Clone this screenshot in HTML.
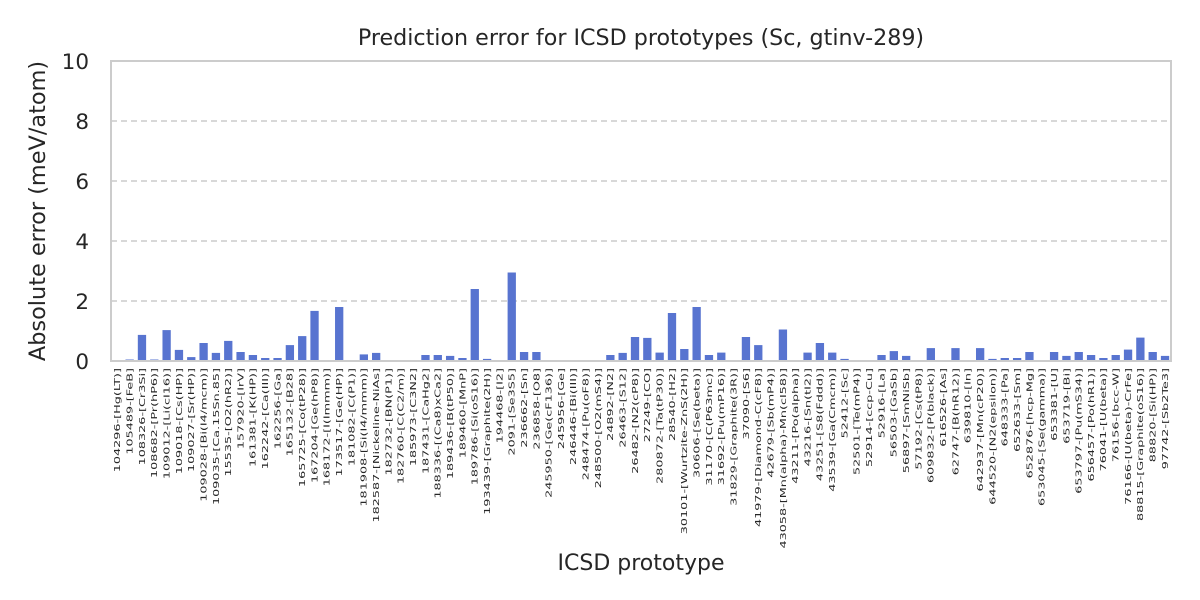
<!DOCTYPE html>
<html><head><meta charset="utf-8"><style>
html,body{margin:0;padding:0;background:#fff;}
svg{display:block;font-family:"DejaVu Sans","Liberation Sans",sans-serif;}
</style></head><body>
<svg width="1200" height="600" viewBox="0 0 1200 600" xmlns="http://www.w3.org/2000/svg">
<rect width="1200" height="600" fill="#fff"/>
<text x="641" y="45" font-size="22.2" text-anchor="middle" fill="#262626">Prediction error for ICSD prototypes (Sc, gtinv-289)</text>
<g stroke="#cccccc" stroke-width="1.6" stroke-dasharray="6,4">
<line x1="111" x2="1171" y1="301" y2="301"/>
<line x1="111" x2="1171" y1="241" y2="241"/>
<line x1="111" x2="1171" y1="181" y2="181"/>
<line x1="111" x2="1171" y1="121" y2="121"/>
</g>
<g font-size="21.5" fill="#262626" text-anchor="end">
<text x="89" y="369">0</text>
<text x="89" y="309">2</text>
<text x="89" y="249">4</text>
<text x="89" y="189">6</text>
<text x="89" y="129">8</text>
<text x="89" y="69">10</text>
</g>
<text transform="translate(45,211) rotate(-90)" font-size="22.4" text-anchor="middle" fill="#262626">Absolute error (meV/atom)</text>
<text x="641" y="570" font-size="22" text-anchor="middle" fill="#262626">ICSD prototype</text>
<g fill="#5874d0" transform="translate(111,0)">
<rect x="14.49" y="359.5" width="8.3" height="1.5"/>
<rect x="26.82" y="334.9" width="8.3" height="26.1"/>
<rect x="39.14" y="359.5" width="8.3" height="1.5"/>
<rect x="51.47" y="330.1" width="8.3" height="30.9"/>
<rect x="63.80" y="349.9" width="8.3" height="11.1"/>
<rect x="76.12" y="357.1" width="8.3" height="3.9"/>
<rect x="88.45" y="343" width="8.3" height="18"/>
<rect x="100.77" y="352.9" width="8.3" height="8.1"/>
<rect x="113.10" y="340.9" width="8.3" height="20.1"/>
<rect x="125.43" y="352" width="8.3" height="9"/>
<rect x="137.75" y="355" width="8.3" height="6"/>
<rect x="150.08" y="358" width="8.3" height="3"/>
<rect x="162.40" y="358" width="8.3" height="3"/>
<rect x="174.73" y="345.1" width="8.3" height="15.9"/>
<rect x="187.06" y="336.1" width="8.3" height="24.9"/>
<rect x="199.38" y="310.9" width="8.3" height="50.1"/>
<rect x="224.03" y="307" width="8.3" height="54"/>
<rect x="248.69" y="354.4" width="8.3" height="6.6"/>
<rect x="261.01" y="352.9" width="8.3" height="8.1"/>
<rect x="310.32" y="355" width="8.3" height="6"/>
<rect x="322.64" y="355" width="8.3" height="6"/>
<rect x="334.97" y="355.9" width="8.3" height="5.1"/>
<rect x="347.29" y="358" width="8.3" height="3"/>
<rect x="359.62" y="289" width="8.3" height="72"/>
<rect x="371.95" y="358.9" width="8.3" height="2.1"/>
<rect x="384.27" y="360" width="8.3" height="1"/>
<rect x="396.60" y="272.5" width="8.3" height="88.5"/>
<rect x="408.92" y="352" width="8.3" height="9"/>
<rect x="421.25" y="352" width="8.3" height="9"/>
<rect x="445.90" y="360" width="8.3" height="1"/>
<rect x="495.21" y="355" width="8.3" height="6"/>
<rect x="507.53" y="352.9" width="8.3" height="8.1"/>
<rect x="519.86" y="337" width="8.3" height="24"/>
<rect x="532.18" y="337.9" width="8.3" height="23.1"/>
<rect x="544.51" y="352.6" width="8.3" height="8.4"/>
<rect x="556.84" y="313" width="8.3" height="48"/>
<rect x="569.16" y="349" width="8.3" height="12"/>
<rect x="581.49" y="307" width="8.3" height="54"/>
<rect x="593.81" y="355" width="8.3" height="6"/>
<rect x="606.14" y="352.6" width="8.3" height="8.4"/>
<rect x="618.47" y="360" width="8.3" height="1"/>
<rect x="630.79" y="337" width="8.3" height="24"/>
<rect x="643.12" y="345.1" width="8.3" height="15.9"/>
<rect x="667.77" y="329.5" width="8.3" height="31.5"/>
<rect x="692.42" y="352.6" width="8.3" height="8.4"/>
<rect x="704.75" y="343" width="8.3" height="18"/>
<rect x="717.07" y="352.6" width="8.3" height="8.4"/>
<rect x="729.40" y="358.9" width="8.3" height="2.1"/>
<rect x="766.38" y="355" width="8.3" height="6"/>
<rect x="778.70" y="351.1" width="8.3" height="9.9"/>
<rect x="791.03" y="355.9" width="8.3" height="5.1"/>
<rect x="815.68" y="348.1" width="8.3" height="12.9"/>
<rect x="828.01" y="360.4" width="8.3" height="0.6"/>
<rect x="840.33" y="348.1" width="8.3" height="12.9"/>
<rect x="864.99" y="348.1" width="8.3" height="12.9"/>
<rect x="877.31" y="358.9" width="8.3" height="2.1"/>
<rect x="889.64" y="358" width="8.3" height="3"/>
<rect x="901.96" y="358" width="8.3" height="3"/>
<rect x="914.29" y="352" width="8.3" height="9"/>
<rect x="926.62" y="360.4" width="8.3" height="0.6"/>
<rect x="938.94" y="352" width="8.3" height="9"/>
<rect x="951.27" y="355.9" width="8.3" height="5.1"/>
<rect x="963.59" y="352" width="8.3" height="9"/>
<rect x="975.92" y="355" width="8.3" height="6"/>
<rect x="988.25" y="358" width="8.3" height="3"/>
<rect x="1000.57" y="355" width="8.3" height="6"/>
<rect x="1012.90" y="349.6" width="8.3" height="11.4"/>
<rect x="1025.22" y="337.6" width="8.3" height="23.4"/>
<rect x="1037.55" y="352" width="8.3" height="9"/>
<rect x="1049.88" y="355.9" width="8.3" height="5.1"/>
</g>
<rect x="111" y="61" width="1060" height="300" fill="none" stroke="#cccccc" stroke-width="2"/>
<g font-size="8" fill="#262626" text-anchor="end">
<text transform="translate(117.2,368) rotate(-90) scale(1.6,1)" dy="3">104296-[Hg(LT)]</text>
<text transform="translate(129.5,368) rotate(-90) scale(1.6,1)" dy="3">105489-[FeB]</text>
<text transform="translate(141.8,368) rotate(-90) scale(1.6,1)" dy="3">108326-[Cr3Si]</text>
<text transform="translate(154.1,368) rotate(-90) scale(1.6,1)" dy="3">108682-[Pr(hP6)]</text>
<text transform="translate(166.5,368) rotate(-90) scale(1.6,1)" dy="3">109012-[Li(cI16)]</text>
<text transform="translate(178.8,368) rotate(-90) scale(1.6,1)" dy="3">109018-[Cs(HP)]</text>
<text transform="translate(191.1,368) rotate(-90) scale(1.6,1)" dy="3">109027-[Sr(HP)]</text>
<text transform="translate(203.4,368) rotate(-90) scale(1.6,1)" dy="3">109028-[Bi(I4/mcm)]</text>
<text transform="translate(215.8,368) rotate(-90) scale(1.6,1)" dy="3">109035-[Ca.15Sn.85]</text>
<text transform="translate(228.1,368) rotate(-90) scale(1.6,1)" dy="3">15535-[O2(hR2)]</text>
<text transform="translate(240.4,368) rotate(-90) scale(1.6,1)" dy="3">157920-[IrV]</text>
<text transform="translate(252.7,368) rotate(-90) scale(1.6,1)" dy="3">161381-[K(HP)]</text>
<text transform="translate(265.1,368) rotate(-90) scale(1.6,1)" dy="3">162242-[Ca(III)]</text>
<text transform="translate(277.4,368) rotate(-90) scale(1.6,1)" dy="3">162256-[Ga]</text>
<text transform="translate(289.7,368) rotate(-90) scale(1.6,1)" dy="3">165132-[B28]</text>
<text transform="translate(302.1,368) rotate(-90) scale(1.6,1)" dy="3">165725-[Co(tP28)]</text>
<text transform="translate(314.4,368) rotate(-90) scale(1.6,1)" dy="3">167204-[Ge(hP8)]</text>
<text transform="translate(326.7,368) rotate(-90) scale(1.6,1)" dy="3">168172-[I(Immm)]</text>
<text transform="translate(339.0,368) rotate(-90) scale(1.6,1)" dy="3">173517-[Ge(HP)]</text>
<text transform="translate(351.4,368) rotate(-90) scale(1.6,1)" dy="3">181082-[C(P1)]</text>
<text transform="translate(363.7,368) rotate(-90) scale(1.6,1)" dy="3">181908-[Si(I4/mmm)]</text>
<text transform="translate(376.0,368) rotate(-90) scale(1.6,1)" dy="3">182587-[Nickeline-NiAs]</text>
<text transform="translate(388.3,368) rotate(-90) scale(1.6,1)" dy="3">182732-[BN(P1)]</text>
<text transform="translate(400.7,368) rotate(-90) scale(1.6,1)" dy="3">182760-[C(C2/m)]</text>
<text transform="translate(413.0,368) rotate(-90) scale(1.6,1)" dy="3">185973-[C3N2]</text>
<text transform="translate(425.3,368) rotate(-90) scale(1.6,1)" dy="3">187431-[CaHg2]</text>
<text transform="translate(437.6,368) rotate(-90) scale(1.6,1)" dy="3">188336-[(Ca8)xCa2]</text>
<text transform="translate(450.0,368) rotate(-90) scale(1.6,1)" dy="3">189436-[B(tP50)]</text>
<text transform="translate(462.3,368) rotate(-90) scale(1.6,1)" dy="3">189460-[MnP]</text>
<text transform="translate(474.6,368) rotate(-90) scale(1.6,1)" dy="3">189786-[Si(oS16)]</text>
<text transform="translate(486.9,368) rotate(-90) scale(1.6,1)" dy="3">193439-[Graphite(2H)]</text>
<text transform="translate(499.3,368) rotate(-90) scale(1.6,1)" dy="3">194468-[I2]</text>
<text transform="translate(511.6,368) rotate(-90) scale(1.6,1)" dy="3">2091-[Se3S5]</text>
<text transform="translate(523.9,368) rotate(-90) scale(1.6,1)" dy="3">236662-[Sn]</text>
<text transform="translate(536.3,368) rotate(-90) scale(1.6,1)" dy="3">236858-[O8]</text>
<text transform="translate(548.6,368) rotate(-90) scale(1.6,1)" dy="3">245950-[Ge(cF136)]</text>
<text transform="translate(560.9,368) rotate(-90) scale(1.6,1)" dy="3">245956-[Ge]</text>
<text transform="translate(573.2,368) rotate(-90) scale(1.6,1)" dy="3">246446-[Bi(III)]</text>
<text transform="translate(585.6,368) rotate(-90) scale(1.6,1)" dy="3">248474-[Pu(oF8)]</text>
<text transform="translate(597.9,368) rotate(-90) scale(1.6,1)" dy="3">248500-[O2(mS4)]</text>
<text transform="translate(610.2,368) rotate(-90) scale(1.6,1)" dy="3">24892-[N2]</text>
<text transform="translate(622.5,368) rotate(-90) scale(1.6,1)" dy="3">26463-[S12]</text>
<text transform="translate(634.9,368) rotate(-90) scale(1.6,1)" dy="3">26482-[N2(cP8)]</text>
<text transform="translate(647.2,368) rotate(-90) scale(1.6,1)" dy="3">27249-[CO]</text>
<text transform="translate(659.5,368) rotate(-90) scale(1.6,1)" dy="3">280872-[Ta(tP30)]</text>
<text transform="translate(671.8,368) rotate(-90) scale(1.6,1)" dy="3">28540-[H2]</text>
<text transform="translate(684.2,368) rotate(-90) scale(1.6,1)" dy="3">30101-[Wurtzite-ZnS(2H)]</text>
<text transform="translate(696.5,368) rotate(-90) scale(1.6,1)" dy="3">30606-[Se(beta)]</text>
<text transform="translate(708.8,368) rotate(-90) scale(1.6,1)" dy="3">31170-[C(P63mc)]</text>
<text transform="translate(721.1,368) rotate(-90) scale(1.6,1)" dy="3">31692-[Pu(mP16)]</text>
<text transform="translate(733.5,368) rotate(-90) scale(1.6,1)" dy="3">31829-[Graphite(3R)]</text>
<text transform="translate(745.8,368) rotate(-90) scale(1.6,1)" dy="3">37090-[S6]</text>
<text transform="translate(758.1,368) rotate(-90) scale(1.6,1)" dy="3">41979-[Diamond-C(cF8)]</text>
<text transform="translate(770.4,368) rotate(-90) scale(1.6,1)" dy="3">42679-[Sb(mP4)]</text>
<text transform="translate(782.8,368) rotate(-90) scale(1.6,1)" dy="3">43058-[Mn(alpha)-Mn(cI58)]</text>
<text transform="translate(795.1,368) rotate(-90) scale(1.6,1)" dy="3">43211-[Po(alpha)]</text>
<text transform="translate(807.4,368) rotate(-90) scale(1.6,1)" dy="3">43216-[Sn(tI2)]</text>
<text transform="translate(819.7,368) rotate(-90) scale(1.6,1)" dy="3">43251-[S8(Fddd)]</text>
<text transform="translate(832.1,368) rotate(-90) scale(1.6,1)" dy="3">43539-[Ga(Cmcm)]</text>
<text transform="translate(844.4,368) rotate(-90) scale(1.6,1)" dy="3">52412-[Sc]</text>
<text transform="translate(856.7,368) rotate(-90) scale(1.6,1)" dy="3">52501-[Te(mP4)]</text>
<text transform="translate(869.1,368) rotate(-90) scale(1.6,1)" dy="3">52914-[ccp-Cu]</text>
<text transform="translate(881.4,368) rotate(-90) scale(1.6,1)" dy="3">52916-[La]</text>
<text transform="translate(893.7,368) rotate(-90) scale(1.6,1)" dy="3">56503-[GaSb]</text>
<text transform="translate(906.0,368) rotate(-90) scale(1.6,1)" dy="3">56897-[SmNiSb]</text>
<text transform="translate(918.4,368) rotate(-90) scale(1.6,1)" dy="3">57192-[Cs(tP8)]</text>
<text transform="translate(930.7,368) rotate(-90) scale(1.6,1)" dy="3">609832-[P(black)]</text>
<text transform="translate(943.0,368) rotate(-90) scale(1.6,1)" dy="3">616526-[As]</text>
<text transform="translate(955.3,368) rotate(-90) scale(1.6,1)" dy="3">62747-[B(hR12)]</text>
<text transform="translate(967.7,368) rotate(-90) scale(1.6,1)" dy="3">639810-[In]</text>
<text transform="translate(980.0,368) rotate(-90) scale(1.6,1)" dy="3">642937-[Mn(cP20)]</text>
<text transform="translate(992.3,368) rotate(-90) scale(1.6,1)" dy="3">644520-[N2(epsilon)]</text>
<text transform="translate(1004.6,368) rotate(-90) scale(1.6,1)" dy="3">648333-[Pa]</text>
<text transform="translate(1017.0,368) rotate(-90) scale(1.6,1)" dy="3">652633-[Sm]</text>
<text transform="translate(1029.3,368) rotate(-90) scale(1.6,1)" dy="3">652876-[hcp-Mg]</text>
<text transform="translate(1041.6,368) rotate(-90) scale(1.6,1)" dy="3">653045-[Se(gamma)]</text>
<text transform="translate(1053.9,368) rotate(-90) scale(1.6,1)" dy="3">653381-[U]</text>
<text transform="translate(1066.3,368) rotate(-90) scale(1.6,1)" dy="3">653719-[Bi]</text>
<text transform="translate(1078.6,368) rotate(-90) scale(1.6,1)" dy="3">653797-[Pu(mS34)]</text>
<text transform="translate(1090.9,368) rotate(-90) scale(1.6,1)" dy="3">656457-[Po(hR1)]</text>
<text transform="translate(1103.2,368) rotate(-90) scale(1.6,1)" dy="3">76041-[U(beta)]</text>
<text transform="translate(1115.6,368) rotate(-90) scale(1.6,1)" dy="3">76156-[bcc-W]</text>
<text transform="translate(1127.9,368) rotate(-90) scale(1.6,1)" dy="3">76166-[U(beta)-CrFe]</text>
<text transform="translate(1140.2,368) rotate(-90) scale(1.6,1)" dy="3">88815-[Graphite(oS16)]</text>
<text transform="translate(1152.5,368) rotate(-90) scale(1.6,1)" dy="3">88820-[Si(HP)]</text>
<text transform="translate(1164.9,368) rotate(-90) scale(1.6,1)" dy="3">97742-[Sb2Te3]</text>
</g>
</svg>
</body></html>
